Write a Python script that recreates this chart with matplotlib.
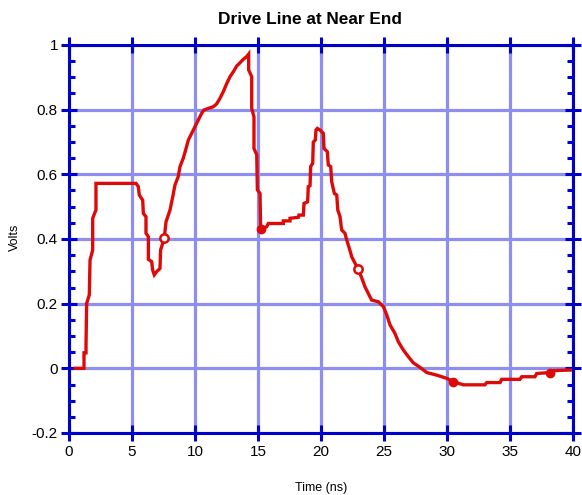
import matplotlib
matplotlib.use("Agg")
import matplotlib.pyplot as plt
from matplotlib.ticker import MultipleLocator

plt.rcParams['font.family'] = ['Liberation Sans', 'DejaVu Sans']

time_ns = [0.5, 1.19, 1.19, 1.35, 1.35, 1.40, 1.61, 1.67, 1.88, 1.88, 2.14, 2.14,
           5.32, 5.50, 5.58, 5.85, 5.90, 6.11, 6.11, 6.30, 6.30, 6.56, 6.64, 6.77,
           6.96, 7.22, 7.27, 7.48, 7.56, 7.70, 8.02, 8.23, 8.41, 8.67, 8.81, 9.07,
           9.29, 9.47, 9.74, 10.0, 10.26, 10.53, 10.71, 11.06, 11.45, 11.72, 11.98,
           12.25, 12.52, 12.78, 13.04, 13.31, 13.57, 13.84, 14.1, 14.26, 14.26, 14.5,
           14.5, 14.68, 14.68, 14.9, 14.95, 15.16, 15.21, 15.69, 15.82, 17.01, 17.01,
           17.54, 17.54, 18.2, 18.25, 18.6, 18.65, 18.94, 18.99, 19.13, 19.18, 19.34,
           19.39, 19.55, 19.6, 19.71, 19.92, 20.18, 20.24, 20.5, 20.58, 20.77, 20.85,
           21.06, 21.25, 21.33, 21.51, 21.64, 21.9, 22.04, 22.25, 22.44, 22.7, 22.96,
           23.23, 23.49, 23.75, 24.02, 24.55, 24.95, 25.22, 25.48, 25.87, 26.14, 26.53,
           26.93, 27.33, 27.86, 28.39, 29.18, 29.98, 30.5, 31.29, 33.01, 33.15, 34.21,
           34.34, 35.79, 35.93, 36.98, 37.12, 38.17, 38.44, 40.0]
volts = [0.0, 0.0, 0.048, 0.048, 0.072, 0.201, 0.227, 0.335, 0.366, 0.464, 0.49, 0.572,
         0.572, 0.562, 0.536, 0.52, 0.479, 0.469, 0.418, 0.407, 0.337, 0.33, 0.304, 0.289,
         0.299, 0.309, 0.366, 0.392, 0.404, 0.453, 0.49, 0.53, 0.567, 0.593, 0.624, 0.65,
         0.68, 0.706, 0.727, 0.747, 0.768, 0.789, 0.799, 0.804, 0.809, 0.818, 0.835,
         0.856, 0.881, 0.902, 0.917, 0.935, 0.945, 0.956, 0.964, 0.972, 0.923, 0.902,
         0.804, 0.778, 0.68, 0.66, 0.552, 0.541, 0.431, 0.438, 0.448, 0.448, 0.456,
         0.456, 0.464, 0.467, 0.474, 0.474, 0.51, 0.515, 0.562, 0.565, 0.624, 0.634,
         0.70, 0.706, 0.737, 0.742, 0.737, 0.727, 0.68, 0.67, 0.629, 0.624, 0.577,
         0.541, 0.536, 0.49, 0.469, 0.428, 0.418, 0.397, 0.371, 0.345, 0.325, 0.306,
         0.28, 0.252, 0.232, 0.211, 0.206, 0.191, 0.165, 0.134, 0.108, 0.082, 0.057,
         0.036, 0.017, 0.003, -0.013, -0.021, -0.031, -0.041, -0.051, -0.051, -0.044, -0.044,
         -0.034, -0.034, -0.026, -0.026, -0.016, -0.013, -0.007, -0.005]

open_mark_t = [7.56, 22.96]
open_mark_v = [0.404, 0.306]
filled_mark_t = [15.21, 30.5, 38.17]
filled_mark_v = [0.431, -0.041, -0.013]

x_ticks = [0, 5, 10, 15, 20, 25, 30, 35, 40]
x_tick_labels = ['0', '5', '10', '15', '20', '25', '30', '35', '40']
y_ticks = [-0.2, 0, 0.2, 0.4, 0.6, 0.8, 1.0]
y_tick_labels = ['-0.2', '0', '0.2', '0.4', '0.6', '0.8', '1']

title = "Drive Line at Near End"
xlabel = "Time (ns)"
ylabel = "Volts"

fig = plt.figure(figsize=(5.82, 4.95), dpi=100)
ax = fig.add_axes([69/582, 1-433/495, (573-69)/582, (433-45)/495])

blue = '#0000cc'
red = '#dd0a0a'

ax.set_xlim(0, 40)
ax.set_ylim(-0.2, 1.0)
ax.set_xticks(x_ticks)
ax.set_xticklabels(x_tick_labels)
ax.set_yticks(y_ticks)
ax.set_yticklabels(y_tick_labels)
ax.yaxis.set_minor_locator(MultipleLocator(0.05))

ax.grid(True, which='major', color='#8e8eee', linewidth=2.3, linestyle='-', zorder=1)
ax.set_axisbelow(True)

ax.plot(time_ns, volts, color=red, linewidth=2.4, zorder=3, solid_joinstyle='miter')
ax.plot(open_mark_t, open_mark_v, linestyle='none', marker='o', markersize=6,
        markerfacecolor='white', markeredgecolor=red, markeredgewidth=1.8, zorder=4)
ax.plot(filled_mark_t, filled_mark_v, linestyle='none', marker='o', markersize=5.5,
        markerfacecolor=red, markeredgecolor=red, markeredgewidth=1.5, zorder=4)

for s in ax.spines.values():
    s.set_color(blue)
    s.set_linewidth(2.2)
    s.set_zorder(5)

ax.tick_params(which='major', direction='inout', length=12, width=2.2, color=blue,
               top=True, right=True, labelsize=11, labelcolor='black', pad=2)
ax.tick_params(axis='x', which='major', length=11, pad=3)
ax.tick_params(which='minor', direction='in', length=4, width=2.2, color=blue,
               left=True, right=True)
ax.tick_params(axis='x', which='minor', bottom=False, top=False)

fig.text(309.5/582, 1-19.5/495, title, ha='center', va='center', fontsize=12.4, fontweight='bold')
fig.text(321/582, 1-488/495, xlabel, ha='center', va='center', fontsize=9)
fig.text(15/582, 1-237/495, ylabel, ha='center', va='center', fontsize=9, rotation=90)

fig.savefig('out.png', dpi=100)
